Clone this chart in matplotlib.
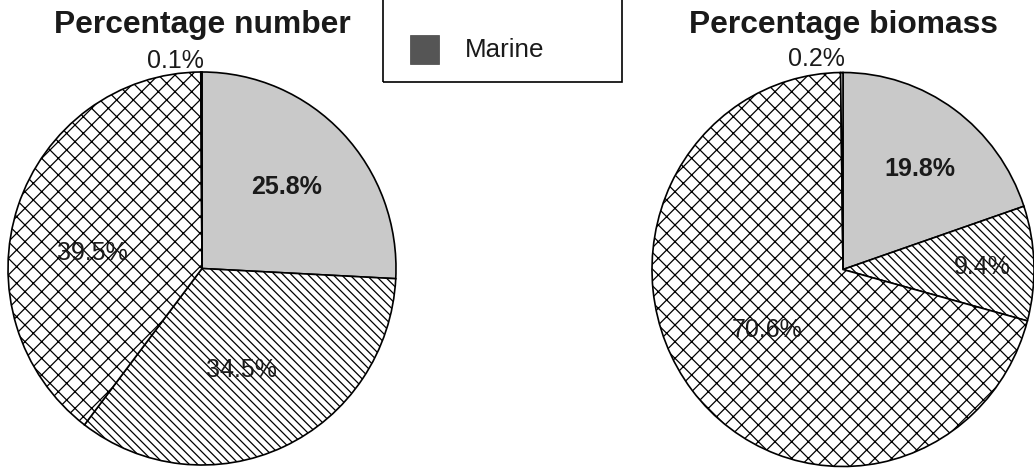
import matplotlib.pyplot as plt
from matplotlib.patches import Rectangle
import numpy as np

plt.rcParams['font.family'] = ['Liberation Sans', 'DejaVu Sans']
plt.rcParams['hatch.linewidth'] = 0.9

# data (percent, clockwise from 12 o'clock)
groups = ['Marine', 'Group 2', 'Group 3', 'Group 4']
pct_number = [25.8, 34.5, 39.5, 0.1]
pct_biomass = [19.8, 9.4, 70.6, 0.2]
titles = ['Percentage number', 'Percentage biomass']

fills = ['#c9c9c9', 'white', 'white', 'white']
hatches = [None, '\\\\\\\\', 'xx', None]

W, H, dpi = 1034, 471, 100
fig = plt.figure(figsize=(W / dpi, H / dpi), dpi=dpi)


def pix_axes(cx, cy, rx, ry):
    # axes box from pixel centre / radii (y measured from top)
    return fig.add_axes([(cx - rx) / W, (H - cy - ry) / H, 2 * rx / W, 2 * ry / H])


# label radius (fraction of r), angle shift from wedge middle, weight
lab_number = [(0.60, 0.0, 'bold'), (0.556, -3.3, 'normal'),
              (0.572, 10.3, 'normal'), (1.063, 7.2, 'normal')]
lab_biomass = [(0.648, -2.5, 'bold'), (0.728, -1.0, 'normal'),
               (0.50, 0.0, 'normal'), (1.075, 7.0, 'normal')]

panels = [
    (pct_number, lab_number, (202, 268.5, 194, 196.5)),
    (pct_biomass, lab_biomass, (843, 269.5, 191, 197)),
]

for i, (vals, labs, box) in enumerate(panels):
    ax = pix_axes(*box)
    wedges, _ = ax.pie(vals, startangle=90, counterclock=False,
                       colors=fills,
                       wedgeprops=dict(edgecolor='black', linewidth=1.2))
    for w, h in zip(wedges, hatches):
        if h:
            w.set_hatch(h)
    ax.set_aspect('auto')
    ax.set_xlim(-1, 1)
    ax.set_ylim(-1, 1)
    for w, v, (r, da, wt) in zip(wedges, vals, labs):
        a = np.deg2rad((w.theta1 + w.theta2) / 2 + da)
        ax.text(r * np.cos(a), r * np.sin(a), f'{v}%', ha='center',
                va='center', fontsize=18, fontweight=wt, color='#1a1a1a',
                clip_on=False)
    cx = box[0]
    fig.text(cx / W, 1 - 25 / H, titles[i], ha='center', va='center',
             fontsize=22.9, fontweight='bold', color='#1a1a1a')

# legend box (top part lies outside the picture)
fig.add_artist(Rectangle((383 / W, 1 - 82 / H), (622 - 383) / W, 0.3,
                         transform=fig.transFigure, fill=False,
                         edgecolor='black', linewidth=1.2, clip_on=False))
fig.add_artist(Rectangle((410 / W, 1 - 64 / H), 29 / W, 29 / H,
                         transform=fig.transFigure, facecolor='#555555',
                         edgecolor='#444444', linewidth=0.5))
fig.text(465 / W, 1 - 50 / H, groups[0], ha='left', va='center',
         fontsize=18.7, color='#1a1a1a')

fig.savefig('out.png', dpi=dpi)
